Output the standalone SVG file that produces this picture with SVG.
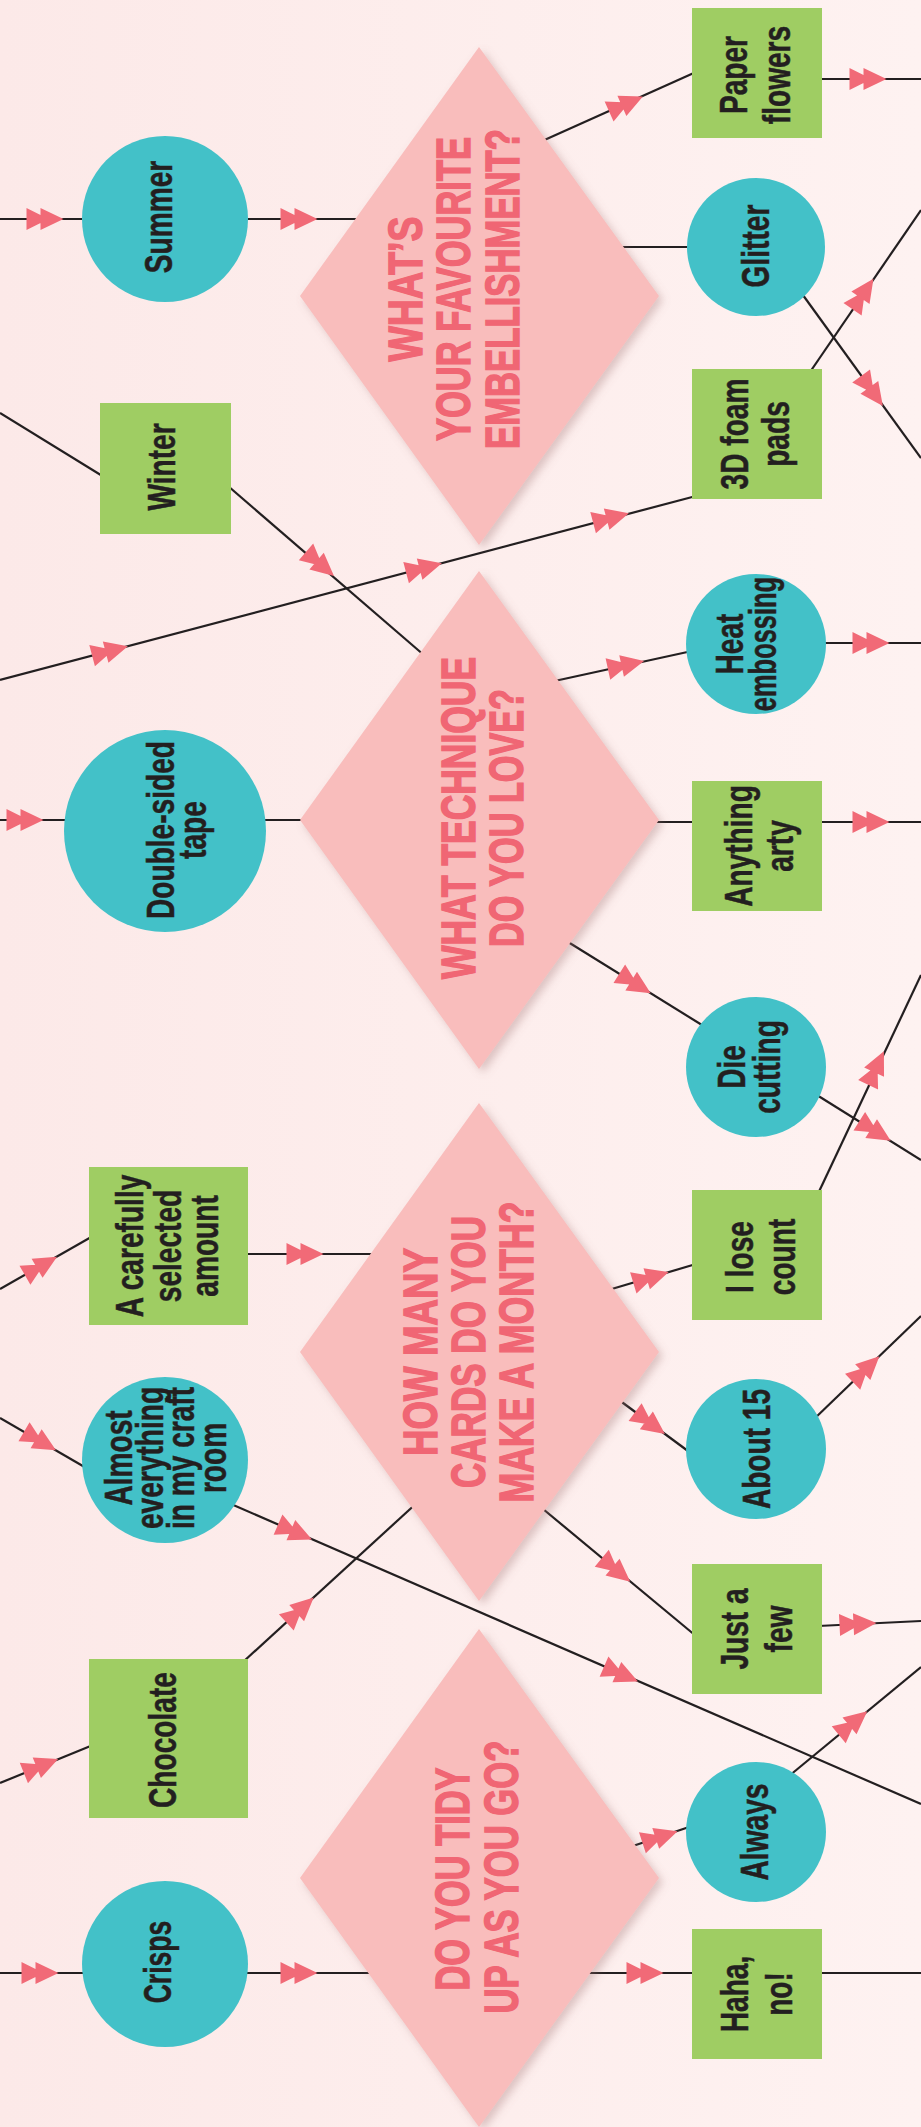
<svg xmlns="http://www.w3.org/2000/svg" xmlns:xlink="http://www.w3.org/1999/xlink" width="921" height="2127" viewBox="0 0 921 2127">
<defs>
<linearGradient id="bg" x1="0" y1="0" x2="1" y2="0">
<stop offset="0" stop-color="#FCE9E8"/>
<stop offset="1" stop-color="#FEF2F1"/>
</linearGradient>
<filter id="sh" x="-10%" y="-10%" width="130%" height="125%">
<feDropShadow dx="4" dy="4" stdDeviation="4" flood-color="#9e6e6e" flood-opacity="0.35"/>
</filter>
<path id="da" d="M-18.5,-11 L3.5,0 L-18.5,11 Z M-4.5,-11 L18.5,0 L-4.5,11 Z"/>
<style>
.ln{stroke:#231F20;stroke-width:2.2;fill:none}
.ar{fill:#F16A77}
.cir{fill:#43C1C8}
.box{fill:#9FCD63}
.dia{fill:#F9BDBC;filter:url(#sh)}
.lbl{font-family:"Liberation Sans",Arial,sans-serif;font-weight:bold;font-size:38px;fill:#231F20;stroke:#231F20;stroke-width:0.5;text-anchor:middle}
.q{font-family:"Liberation Sans",Arial,sans-serif;font-weight:bold;font-size:48px;fill:#F06674;stroke:#F06674;stroke-width:1.5;text-anchor:middle}
</style>
</defs>
<rect x="0" y="0" width="921" height="2127" fill="url(#bg)"/>

<g id="connectors">
<path class="ln" d="M0,219 H82"/>
<path class="ln" d="M248,219 H370"/>
<path class="ln" d="M0,413 L104,477"/>
<path class="ln" d="M228,486 L425,656"/>
<path class="ln" d="M0,680 L696,496"/>
<path class="ln" d="M0,820 H70"/>
<path class="ln" d="M260,820 H310"/>
<path class="ln" d="M540,142 L696,72"/>
<path class="ln" d="M615,247 H700"/>
<path class="ln" d="M818,79 H921"/>
<path class="ln" d="M800,291 L921,458"/>
<path class="ln" d="M808,375 L921,210"/>
<path class="ln" d="M550,682 L692,651"/>
<path class="ln" d="M820,643 H921"/>
<path class="ln" d="M650,822 H700"/>
<path class="ln" d="M818,822 H921"/>
<path class="ln" d="M560,937 L710,1030"/>
<path class="ln" d="M812,1092 L921,1160"/>
<path class="ln" d="M816,1198 L921,975"/>
<path class="ln" d="M0,1289 L93,1236"/>
<path class="ln" d="M244,1254 H378"/>
<path class="ln" d="M605,1291 L696,1264"/>
<path class="ln" d="M615,1397 L692,1454"/>
<path class="ln" d="M812,1421 L921,1316"/>
<path class="ln" d="M537,1504 L696,1636"/>
<path class="ln" d="M818,1626 L921,1621"/>
<path class="ln" d="M0,1418 L88,1469"/>
<path class="ln" d="M231,1504 L921,1804"/>
<path class="ln" d="M243,1662 L420,1500"/>
<path class="ln" d="M0,1783 L93,1745"/>
<path class="ln" d="M0,1973 H86"/>
<path class="ln" d="M244,1973 H378"/>
<path class="ln" d="M627,1848 L692,1826"/>
<path class="ln" d="M789,1776 L921,1667"/>
<path class="ln" d="M580,1973 H700"/>
<path class="ln" d="M818,1973 H921"/>
<g class="ar">
<use xlink:href="#da" transform="translate(45,219)"/>
<use xlink:href="#da" transform="translate(299,219)"/>
<use xlink:href="#da" transform="translate(626,104) rotate(-24)"/>
<use xlink:href="#da" transform="translate(868,79)"/>
<use xlink:href="#da" transform="translate(872,391) rotate(54)"/>
<use xlink:href="#da" transform="translate(863,294) rotate(-55.6)"/>
<use xlink:href="#da" transform="translate(110,651) rotate(-14.8)"/>
<use xlink:href="#da" transform="translate(424,568) rotate(-14.8)"/>
<use xlink:href="#da" transform="translate(611,518) rotate(-14.8)"/>
<use xlink:href="#da" transform="translate(320,564) rotate(40.8)"/>
<use xlink:href="#da" transform="translate(25,820)"/>
<use xlink:href="#da" transform="translate(626,665) rotate(-12.2)"/>
<use xlink:href="#da" transform="translate(871,643)"/>
<use xlink:href="#da" transform="translate(871,822)"/>
<use xlink:href="#da" transform="translate(635,983.5) rotate(31.9)"/>
<use xlink:href="#da" transform="translate(875,1131) rotate(31.9)"/>
<use xlink:href="#da" transform="translate(876,1068) rotate(-64.8)"/>
<use xlink:href="#da" transform="translate(41,1266) rotate(-29.8)"/>
<use xlink:href="#da" transform="translate(305,1254)"/>
<use xlink:href="#da" transform="translate(651,1277.5) rotate(-16.9)"/>
<use xlink:href="#da" transform="translate(650,1423) rotate(36.3)"/>
<use xlink:href="#da" transform="translate(866,1369) rotate(-43.7)"/>
<use xlink:href="#da" transform="translate(616,1570) rotate(39.7)"/>
<use xlink:href="#da" transform="translate(858,1624) rotate(-2.9)"/>
<use xlink:href="#da" transform="translate(40,1441) rotate(30.3)"/>
<use xlink:href="#da" transform="translate(295,1532) rotate(23.5)"/>
<use xlink:href="#da" transform="translate(621,1674) rotate(23.5)"/>
<use xlink:href="#da" transform="translate(300,1610) rotate(-42.3)"/>
<use xlink:href="#da" transform="translate(41,1766) rotate(-22)"/>
<use xlink:href="#da" transform="translate(40,1973)"/>
<use xlink:href="#da" transform="translate(299,1973)"/>
<use xlink:href="#da" transform="translate(660,1837) rotate(-18.1)"/>
<use xlink:href="#da" transform="translate(853,1723) rotate(-39.6)"/>
<use xlink:href="#da" transform="translate(645,1973)"/>
</g>
</g>

<g id="q-embellishment">
<polygon class="dia" points="479,47 659,296 479,545 300,296"/>
<text class="q" transform="translate(0,289) rotate(-90)" x="0" y="422" textLength="145" lengthAdjust="spacingAndGlyphs">WHAT’S</text>
<text class="q" transform="translate(0,289) rotate(-90)" x="0" y="470" textLength="304" lengthAdjust="spacingAndGlyphs">YOUR FAVOURITE</text>
<text class="q" transform="translate(0,289) rotate(-90)" x="0" y="519" textLength="320" lengthAdjust="spacingAndGlyphs">EMBELLISHMENT?</text>
</g>
<g id="q-technique">
<polygon class="dia" points="479,571 659,820 479,1069 300,820"/>
<text class="q" transform="translate(0,818) rotate(-90)" x="0" y="475" textLength="322" lengthAdjust="spacingAndGlyphs">WHAT TECHNIQUE</text>
<text class="q" transform="translate(0,818) rotate(-90)" x="0" y="523" textLength="258" lengthAdjust="spacingAndGlyphs">DO YOU LOVE?</text>
</g>
<g id="q-cards">
<polygon class="dia" points="479,1103 659,1352 479,1601 300,1352"/>
<text class="q" transform="translate(0,1352) rotate(-90)" x="0" y="437" textLength="208" lengthAdjust="spacingAndGlyphs">HOW MANY</text>
<text class="q" transform="translate(0,1352) rotate(-90)" x="0" y="485" textLength="272" lengthAdjust="spacingAndGlyphs">CARDS DO YOU</text>
<text class="q" transform="translate(0,1352) rotate(-90)" x="0" y="533" textLength="301" lengthAdjust="spacingAndGlyphs">MAKE A MONTH?</text>
</g>
<g id="q-tidy">
<polygon class="dia" points="479,1629 659,1878 479,2127 300,1878"/>
<text class="q" transform="translate(0,1879) rotate(-90)" x="0" y="469" textLength="223" lengthAdjust="spacingAndGlyphs">DO YOU TIDY</text>
<text class="q" transform="translate(0,1877) rotate(-90)" x="0" y="518" textLength="273" lengthAdjust="spacingAndGlyphs">UP AS YOU GO?</text>
</g>

<g id="summer">
<circle class="cir" cx="165" cy="219" r="83"/>
<text class="lbl" transform="translate(0,217) rotate(-90) scale(0.74,1)" x="0" y="172">Summer</text>
</g>
<g id="winter">
<rect class="box" x="100" y="403" width="131" height="131"/>
<text class="lbl" transform="translate(0,467) rotate(-90) scale(0.74,1)" x="0" y="175">Winter</text>
</g>
<g id="double-sided-tape">
<circle class="cir" cx="165" cy="831" r="101"/>
<text class="lbl" transform="translate(0,830) rotate(-90) scale(0.74,1)"><tspan x="0" y="174">Double-sided</tspan><tspan x="0" y="206">tape</tspan></text>
</g>
<g id="carefully-selected">
<rect class="box" x="89" y="1167" width="159" height="158"/>
<text class="lbl" transform="translate(0,1246) rotate(-90) scale(0.74,1)"><tspan x="0" y="143">A carefully</tspan><tspan x="0" y="181">selected</tspan><tspan x="0" y="218">amount</tspan></text>
</g>
<g id="almost-everything">
<circle class="cir" cx="165" cy="1460" r="83"/>
<text class="lbl" transform="translate(0,1458) rotate(-90) scale(0.74,1)"><tspan x="0" y="132">Almost</tspan><tspan x="0" y="163">everything</tspan><tspan x="0" y="194">in my craft</tspan><tspan x="0" y="226">room</tspan></text>
</g>
<g id="chocolate">
<rect class="box" x="89" y="1659" width="159" height="159"/>
<text class="lbl" transform="translate(0,1740) rotate(-90) scale(0.74,1)" x="0" y="176">Chocolate</text>
</g>
<g id="crisps">
<circle class="cir" cx="165" cy="1964" r="83"/>
<text class="lbl" transform="translate(0,1962) rotate(-90) scale(0.7,1)" x="0" y="171">Crisps</text>
</g>

<g id="paper-flowers">
<rect class="box" x="692" y="8" width="130" height="130"/>
<text class="lbl" transform="translate(0,75) rotate(-90) scale(0.74,1)"><tspan x="0" y="747">Paper</tspan><tspan x="0" y="790">flowers</tspan></text>
</g>
<g id="glitter">
<circle class="cir" cx="756" cy="247" r="69"/>
<text class="lbl" transform="translate(0,246) rotate(-90) scale(0.74,1)" x="0" y="769">Glitter</text>
</g>
<g id="foam-pads">
<rect class="box" x="692" y="369" width="130" height="130"/>
<text class="lbl" transform="translate(0,434) rotate(-90) scale(0.74,1)"><tspan x="0" y="748">3D foam</tspan><tspan x="0" y="789">pads</tspan></text>
</g>
<g id="heat-embossing">
<circle class="cir" cx="756" cy="644" r="70"/>
<text class="lbl" transform="translate(0,644) rotate(-90) scale(0.74,1)" x="0" y="743">Heat</text>
<text class="lbl" transform="translate(0,644) rotate(-90) scale(0.67,1)" x="0" y="776">embossing</text>
</g>
<g id="anything-arty">
<rect class="box" x="692" y="781" width="130" height="130"/>
<text class="lbl" transform="translate(0,846) rotate(-90) scale(0.74,1)"><tspan x="0" y="752">Anything</tspan><tspan x="0" y="793">arty</tspan></text>
</g>
<g id="die-cutting">
<circle class="cir" cx="756" cy="1067" r="70"/>
<text class="lbl" transform="translate(0,1067) rotate(-90) scale(0.74,1)"><tspan x="0" y="745">Die</tspan><tspan x="0" y="780">cutting</tspan></text>
</g>
<g id="lose-count">
<rect class="box" x="692" y="1190" width="130" height="130"/>
<text class="lbl" transform="translate(0,1257) rotate(-90) scale(0.74,1)"><tspan x="0" y="753">I lose</tspan><tspan x="0" y="795">count</tspan></text>
</g>
<g id="about-15">
<circle class="cir" cx="756" cy="1449" r="70"/>
<text class="lbl" transform="translate(0,1449) rotate(-90) scale(0.74,1)" x="0" y="770">About 15</text>
</g>
<g id="just-a-few">
<rect class="box" x="692" y="1564" width="130" height="130"/>
<text class="lbl" transform="translate(0,1629) rotate(-90) scale(0.74,1)"><tspan x="0" y="748">Just a</tspan><tspan x="0" y="792">few</tspan></text>
</g>
<g id="always">
<circle class="cir" cx="756" cy="1832" r="70"/>
<text class="lbl" transform="translate(0,1832) rotate(-90) scale(0.74,1)" x="0" y="768">Always</text>
</g>
<g id="haha-no">
<rect class="box" x="692" y="1929" width="130" height="130"/>
<text class="lbl" transform="translate(0,1994) rotate(-90) scale(0.74,1)"><tspan x="0" y="748">Haha,</tspan><tspan x="0" y="792">no!</tspan></text>
</g>
</svg>
